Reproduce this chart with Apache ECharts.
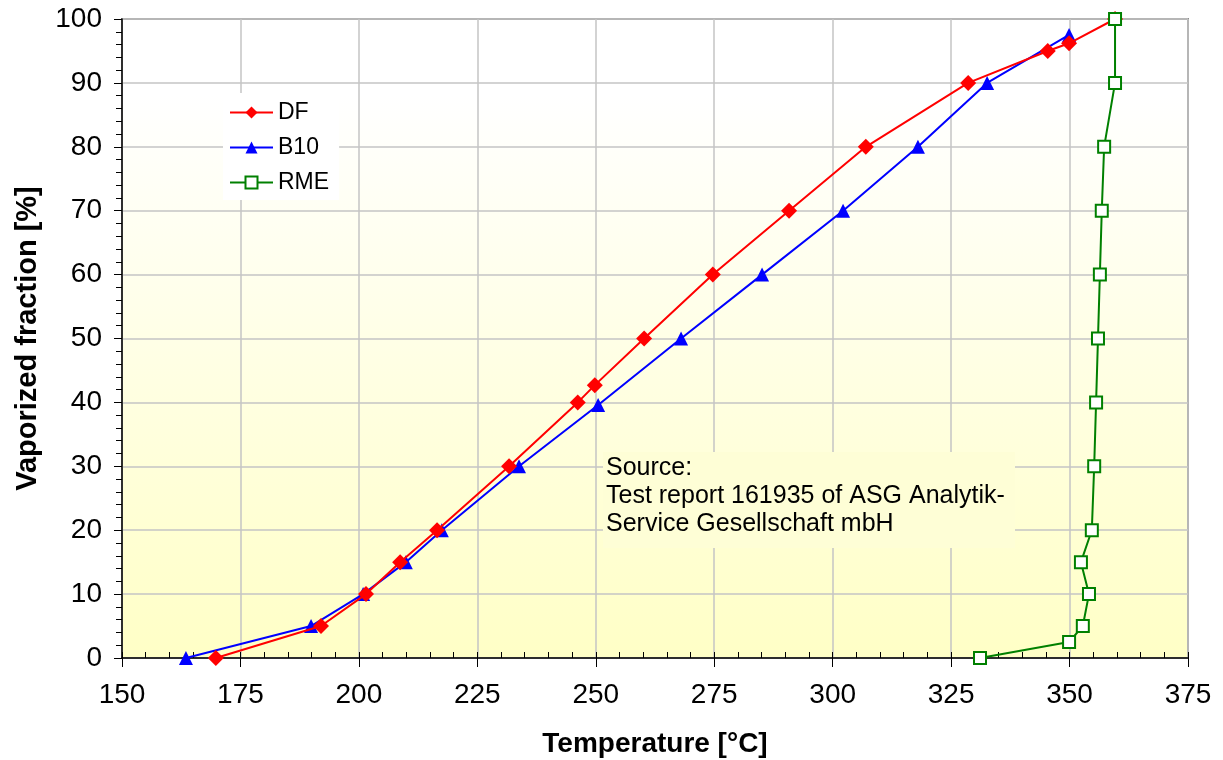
<!DOCTYPE html>
<html style="height: 100%">
<head>
    <meta charset="UTF-8">
    <script type="text/javascript" src="https://cdn.jsdelivr.net/npm/echarts@6/dist/echarts.min.js"></script>
    <style type="text/css">
        body {margin:0; padding:0; overflow:hidden; height: 100%; background: #fff}
    </style>
</head>
<body>
    <div id="container" style="width:1223px;height:760px"></div>
<script>
    // distillation curves: temperature [°C] vs vaporized fraction [%]
    var dfTemp  = [169.8, 192.0, 201.5, 208.7, 216.5, 231.7, 246.2, 249.8, 260.2, 274.7, 290.8, 307.0, 328.6, 345.4, 349.9, 359.6];
    var dfFrac  = [0, 5, 10, 15, 20, 30, 40, 42.7, 50, 60, 70, 80, 90, 95, 96.2, 100];
    var b10Temp = [163.5, 189.9, 200.9, 209.9, 217.5, 233.8, 250.5, 268.0, 285.1, 302.2, 318.0, 332.6, 349.9];
    var b10Frac = [0, 5, 10, 15, 20, 30, 39.6, 50, 60, 70, 80, 90, 97.5];
    var rmeTemp = [331.1, 349.9, 352.8, 354.1, 352.4, 354.7, 355.2, 355.6, 356.0, 356.4, 356.8, 357.3, 359.6, 359.6];
    var rmeFrac = [0, 2.5, 5, 10, 15, 20, 30, 40, 50, 60, 70, 80, 90, 100];

    var sourceLines = ['Source:', 'Test report 161935 of ASG Analytik-', 'Service Gesellschaft mbH'];

    function pairs(xs, ys) {
        return xs.map(function (x, i) { return [x, ys[i]]; });
    }

    var myChart = echarts.init(document.getElementById('container'));
    var font = '"Liberation Sans", Arial, sans-serif';

    var option = {
        animation: false,
        textStyle: {fontFamily: font, color: '#000'},
        grid: {
            left: 122, right: 35, top: 19, bottom: 102,
            outerBoundsMode: 'none',
            containLabel: false,
            show: true,
            borderColor: '#8c8c8c',
            borderWidth: 2,
            backgroundColor: {
                type: 'linear', x: 0, y: 0, x2: 0, y2: 1,
                colorStops: [
                    {offset: 0, color: '#ffffff'},
                    {offset: 0.12, color: '#ffffff'},
                    {offset: 1, color: '#ffffc6'}
                ]
            }
        },
        legend: {
            orient: 'vertical',
            left: 223, top: 93,
            padding: [8, 10, 6, 6],
            itemGap: 12,
            itemWidth: 43,
            itemHeight: 15,
            backgroundColor: '#fff',
            textStyle: {fontSize: 23, color: '#000', fontFamily: font},
            data: ['DF', 'B10', 'RME']
        },
        xAxis: [{
            type: 'value',
            min: 150, max: 375, interval: 25,
            name: 'Temperature [°C]',
            nameLocation: 'middle',
            nameGap: 72,
            nameTextStyle: {fontSize: 28, fontWeight: 'bold', color: '#000'},
            axisLine: {onZero: false, lineStyle: {color: '#000', width: 1.5}},
            axisTick: {length: 9, lineStyle: {color: '#000'}},
            axisLabel: {fontSize: 28, color: '#000', margin: 23},
            splitLine: {lineStyle: {color: '#c4c4c4', width: 1.5}}
        }, {
            type: 'value',
            position: 'bottom',
            min: 150, max: 375, interval: 5,
            axisLine: {show: false},
            axisTick: {inside: true, length: 6, lineStyle: {color: '#000'}},
            axisLabel: {show: false},
            splitLine: {show: false}
        }],
        yAxis: {
            type: 'value',
            min: 0, max: 100, interval: 10,
            name: 'Vaporized fraction [%]',
            nameLocation: 'middle',
            nameGap: 80,
            nameTextStyle: {fontSize: 29, fontWeight: 'bold', color: '#000'},
            axisLine: {show: true, onZero: false, lineStyle: {color: '#000', width: 1.5}},
            axisTick: {show: true, length: 8, lineStyle: {color: '#000'}},
            minorTick: {show: true, splitNumber: 5, length: 6, lineStyle: {color: '#000'}},
            axisLabel: {fontSize: 28, color: '#000', margin: 20},
            splitLine: {lineStyle: {color: '#c4c4c4', width: 1.5}}
        },
        graphic: [{
            type: 'rect',
            left: 603, top: 452,
            z: 100,
            shape: {width: 412, height: 96},
            style: {fill: '#fefed6'}
        }, {
            type: 'text',
            left: 606, top: 454,
            z: 101,
            style: {
                text: sourceLines.join('\n'),
                font: '25px ' + font,
                lineHeight: 28,
                fill: '#000'
            }
        }],
        series: [{
            name: 'DF',
            type: 'line',
            data: pairs(dfTemp, dfFrac),
            symbol: 'diamond',
            symbolSize: 16,
            z: 4,
            lineStyle: {color: '#ff0000', width: 2},
            itemStyle: {color: '#ff0000'}
        }, {
            name: 'B10',
            type: 'line',
            data: pairs(b10Temp, b10Frac),
            symbol: 'triangle',
            symbolSize: 14,
            z: 3,
            lineStyle: {color: '#0000ff', width: 2},
            itemStyle: {color: '#0000ff'}
        }, {
            name: 'RME',
            type: 'line',
            data: pairs(rmeTemp, rmeFrac),
            symbol: 'rect',
            symbolSize: 12,
            z: 5,
            lineStyle: {color: '#008000', width: 2},
            itemStyle: {color: '#ffffff', borderColor: '#008000', borderWidth: 2}
        }]
    };
    myChart.setOption(option);
    window.addEventListener("resize", function () {
        myChart.resize();
    });
</script>
</body>
</html>
